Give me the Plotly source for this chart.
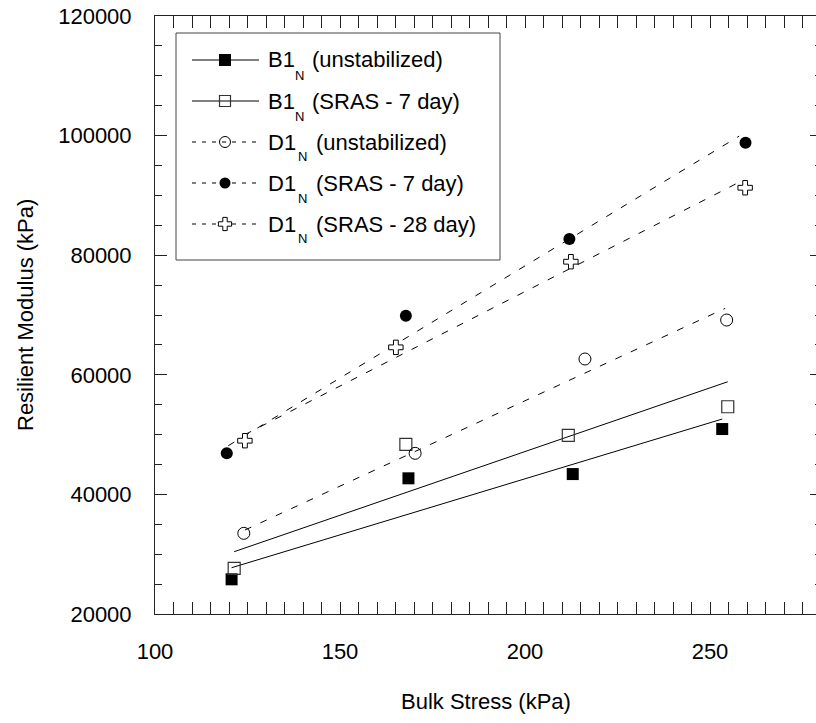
import plotly.graph_objects as go

# Bulk stress (kPa) vs. resilient modulus (kPa) for each specimen set
b1_unstab_x = [120.7, 168.5, 212.9, 253.3]
b1_unstab_y = [25800, 42690, 43400, 50930]
b1_sras7_x = [121.4, 167.8, 211.7, 254.8]
b1_sras7_y = [27640, 48370, 49880, 54660]
d1_unstab_x = [124.0, 170.3, 216.2, 254.5]
d1_unstab_y = [33490, 46870, 62640, 69160]
d1_sras7_x = [119.4, 167.8, 212.0, 259.6]
d1_sras7_y = [46870, 69880, 82700, 98800]
d1_sras28_x = [124.3, 165.1, 212.4, 259.5]
d1_sras28_y = [48980, 64590, 78910, 91280]

# Trend lines (start / end points)
b1_unstab_fit_x = [120.7, 253.3]
b1_unstab_fit_y = [27740, 52600]
b1_sras7_fit_x = [121.4, 254.8]
b1_sras7_fit_y = [30420, 58840]
d1_unstab_fit_x = [124.3, 254.1]
d1_unstab_fit_y = [34040, 71110]
d1_sras7_fit_x = [119.8, 257.9]
d1_sras7_fit_y = [48140, 99920]
d1_sras28_fit_x = [124.3, 258.5]
d1_sras28_fit_y = [50000, 92400]

# Legend text
legend_main = ["B1", "B1", "D1", "D1", "D1"]
legend_sub = ["N", "N", "N", "N", "N"]
legend_desc = ["(unstabilized)", "(SRAS - 7 day)", "(unstabilized)",
               "(SRAS - 7 day)", "(SRAS - 28 day)"]

x_ticks = [100, 150, 200, 250]
y_ticks = [20000, 40000, 60000, 80000, 100000, 120000]
x_title = "Bulk Stress (kPa)"
y_title = "Resilient Modulus (kPa)"

FONT = "Liberation Sans, Arial, sans-serif"
W, H = 816, 723
L, R, T, B = 155, 816, 16, 614


def px(x):
    return (x - L) / (R - L)


def py(y):
    return (B - y) / (B - T)


DASH = "7px,10px"
series = [
    (b1_unstab_x, b1_unstab_y, b1_unstab_fit_x, b1_unstab_fit_y, "solid",
     dict(symbol="square", size=12, color="black", line=dict(width=0))),
    (b1_sras7_x, b1_sras7_y, b1_sras7_fit_x, b1_sras7_fit_y, "solid",
     dict(symbol="square-open", size=12, color="#333", line=dict(width=1.2))),
    (d1_unstab_x, d1_unstab_y, d1_unstab_fit_x, d1_unstab_fit_y, DASH,
     dict(symbol="circle-open", size=12, color="black", line=dict(width=1))),
    (d1_sras7_x, d1_sras7_y, d1_sras7_fit_x, d1_sras7_fit_y, DASH,
     dict(symbol="circle", size=12, color="black", line=dict(width=0))),
    (d1_sras28_x, d1_sras28_y, d1_sras28_fit_x, d1_sras28_fit_y, DASH,
     dict(symbol="cross", size=12, color="white", line=dict(width=1, color="black"))),
]

fig = go.Figure()

for sx, sy, fx, fy, dash, mk in series:
    fig.add_trace(go.Scatter(x=fx, y=fy, mode="lines",
                             line=dict(color="black", width=1, dash=dash),
                             showlegend=False, hoverinfo="skip"))
for sx, sy, fx, fy, dash, mk in series:
    fig.add_trace(go.Scatter(x=sx, y=sy, mode="markers", marker=mk,
                             showlegend=False))

# Hand-built legend box (drawn beneath the legend sample markers)
box_l, box_r, box_t, box_b = 176, 500, 33, 260
shapes = [dict(type="rect", xref="paper", yref="paper",
               x0=px(box_l), x1=px(box_r), y0=py(box_b), y1=py(box_t),
               line=dict(color="#444", width=1), fillcolor="white", layer="below")]
# Left frame edge
shapes.append(dict(type="line", xref="paper", yref="paper",
                   x0=px(L - 0.5), x1=px(L - 0.5), y0=py(B + 0.5), y1=py(T - 0.5),
                   line=dict(color="#222", width=1), layer="above"))
annotations = []
row_y0, row_dy = 60, 41
seg_l, seg_r, mark_x = 192, 259, 225
main_x = 267
sub_x = {"B1": 294, "D1": 297}
desc_x = {"B1": 311, "D1": 315}
for i, (sx, sy, fx, fy, dash, mk) in enumerate(series):
    yy = row_y0 + i * row_dy
    shapes.append(dict(type="line", xref="paper", yref="paper",
                       x0=px(seg_l), x1=px(seg_r), y0=py(yy), y1=py(yy),
                       line=dict(color="black", width=1,
                                 dash="solid" if dash == "solid" else "4px,6px"),
                       layer="below"))
    fig.add_trace(go.Scatter(x=[px(mark_x)], y=[py(yy)], mode="markers",
                             marker=dict(mk, size=12 if i == 0 else 11),
                             xaxis="x2", yaxis="y2",
                             showlegend=False, hoverinfo="skip", cliponaxis=False))
    m = legend_main[i]
    annotations.append(dict(text=m, xref="paper", yref="paper", x=px(main_x), y=py(yy),
                            xanchor="left", yanchor="middle", showarrow=False,
                            borderpad=0, font=dict(family=FONT, size=22, color="black")))
    annotations.append(dict(text=legend_sub[i], xref="paper", yref="paper",
                            x=px(sub_x[m]), y=py(yy + 15),
                            xanchor="left", yanchor="middle", showarrow=False,
                            borderpad=0, font=dict(family=FONT, size=13, color="black")))
    annotations.append(dict(text=legend_desc[i], xref="paper", yref="paper",
                            x=px(desc_x[m]), y=py(yy),
                            xanchor="left", yanchor="middle", showarrow=False,
                            borderpad=0, font=dict(family=FONT, size=22, color="black")))

# Axis titles
annotations.append(dict(text=x_title, xref="paper", yref="paper", x=px(486), y=py(702),
                        xanchor="center", yanchor="middle", showarrow=False,
                        font=dict(family=FONT, size=22, color="black")))
annotations.append(dict(text=y_title, xref="paper", yref="paper", x=px(25), y=0.5,
                        xanchor="center", yanchor="middle", showarrow=False, textangle=-90,
                        font=dict(family=FONT, size=22, color="black")))

# Right-hand tick marks (frame continues just past the page edge)
fig.add_trace(go.Scatter(x=[None], y=[None], yaxis="y3", showlegend=False))

axis_common = dict(showgrid=False, zeroline=False, showline=True, linecolor="#222",
                   linewidth=1, ticks="inside", ticklen=12, tickwidth=1, tickcolor="#222",
                   tickfont=dict(family=FONT, size=22, color="black"))

fig.update_layout(
    width=W, height=H,
    margin=dict(l=L, r=W - R, t=T, b=H - B),
    paper_bgcolor="white", plot_bgcolor="white",
    showlegend=False,
    xaxis=dict(axis_common, range=[100, 100 + (R - L) / 3.70], tickvals=x_ticks,
               mirror="allticks", ticklabelstandoff=18,
               minor=dict(ticks="inside", ticklen=6, dtick=5, tick0=100,
                          tickwidth=1, tickcolor="#222")),
    yaxis=dict(axis_common, range=[20000, 120000], tickvals=y_ticks, tickformat="d",
               mirror=True, ticklabelstandoff=18,
               minor=dict(ticks="inside", ticklen=7, dtick=5000, tick0=20000,
                          tickwidth=1, tickcolor="#222")),
    yaxis3=dict(overlaying="y", side="right", anchor="x", range=[20000, 120000],
                tickvals=y_ticks, showticklabels=False, showgrid=False, zeroline=False,
                showline=False, ticks="inside", ticklen=6, tickwidth=1, tickcolor="#222",
                minor=dict(ticks="inside", ticklen=1, dtick=5000, tick0=20000,
                           tickwidth=1, tickcolor="#222")),
    xaxis2=dict(overlaying="x", domain=[0, 1], range=[0, 1], visible=False, anchor="y2"),
    yaxis2=dict(overlaying="y", domain=[0, 1], range=[0, 1], visible=False, anchor="x2"),
    shapes=shapes,
    annotations=annotations,
)

fig.write_html("out.html")
